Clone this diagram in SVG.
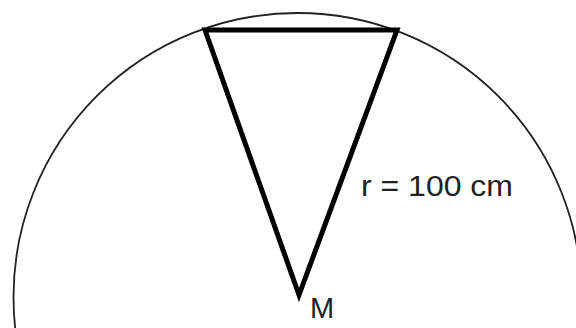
<svg xmlns="http://www.w3.org/2000/svg" width="576" height="328" viewBox="0 0 576 328">
<style>
.lbl{font-family:"Liberation Sans",Arial,sans-serif;fill:#222;}
</style>
<rect width="576" height="328" fill="#fff"/>
<g id="circle">
<circle cx="297.5" cy="297" r="284" fill="none" stroke="#222" stroke-width="1.8"/>
</g>
<g id="triangle">
<polygon points="205,30 397,30 299,295" fill="none" stroke="#000" stroke-width="5" stroke-linejoin="miter"/>
</g>
<g id="labels">
<text class="lbl" x="361" y="196" font-size="29" textLength="152" lengthAdjust="spacingAndGlyphs">r = 100 cm</text>
<text class="lbl" x="310" y="318" font-size="29">M</text>
</g>
</svg>
